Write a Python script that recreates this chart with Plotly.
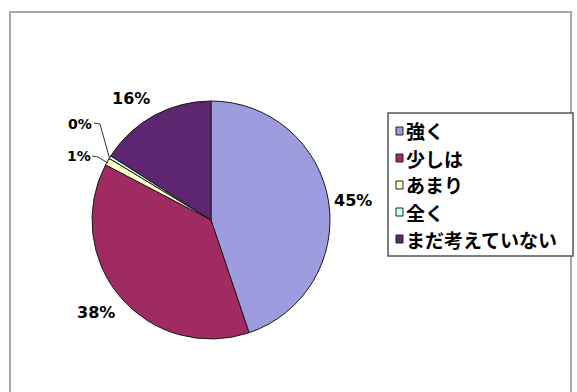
import plotly.graph_objects as go

W, H = 577, 392

categories = ["強く", "少しは", "あまり", "全く", "まだ考えていない"]
values = [45, 38, 1, 0.4, 16]
colors = ["#9C9CDE", "#A02A62", "#FFFFCC", "#CCFFFF", "#5E2570"]

# pixel helpers -> paper coordinates (margins are zero)
def px(x):
    return x / W

def py(y):
    return 1 - y / H

cx, cy, r = 211, 220, 119

fig = go.Figure(go.Pie(
    labels=categories,
    values=values,
    sort=False,
    direction="clockwise",
    rotation=0,
    marker=dict(colors=colors, line=dict(color="#1a1a1a", width=1)),
    textinfo="none",
    hoverinfo="label+percent",
    showlegend=False,
    domain=dict(x=[px(cx - r), px(cx + r)], y=[py(cy + r), py(cy - r)]),
))

total = sum(values)
pct = [f"{round(v / total * 100):d}%" for v in values]

# label anchor points for each slice (pixels)
label_pos = [(353, 200), (96, 312), (79, 156), (80, 124), (131, 98)]
sizes = [16, 16, 14, 14, 16]

annotations = []
for (x, y), t, s in zip(label_pos, pct, sizes):
    annotations.append(dict(
        x=px(x), y=py(y), xref="paper", yref="paper", text=f"<b>{t}</b>",
        showarrow=False, font=dict(family="DejaVu Sans", size=s, color="#000"),
        xanchor="center", yanchor="middle",
    ))

shapes = [
    # chart area frame
    dict(type="rect", xref="paper", yref="paper", x0=px(10), x1=px(571),
         y0=py(400), y1=py(12), line=dict(color="#a8a8a8", width=2)),
    # leader lines for the small slices
    dict(type="path", xref="paper", yref="paper",
         path=f"M {px(94)},{py(123)} L {px(100)},{py(124)} L {px(110)},{py(160)}",
         line=dict(color="#333", width=1)),
    dict(type="path", xref="paper", yref="paper",
         path=f"M {px(92)},{py(156)} L {px(98)},{py(157)} L {px(108)},{py(163)}",
         line=dict(color="#333", width=1)),
    # legend box
    dict(type="rect", xref="paper", yref="paper", x0=px(388), x1=px(573),
         y0=py(256), y1=py(113), line=dict(color="#555", width=1.5),
         fillcolor="white"),
]

# legend entries
leg_y = [131, 158, 185, 212, 239]
for cat, col, y in zip(categories, colors, leg_y):
    shapes.append(dict(type="rect", xref="paper", yref="paper",
                       x0=px(396), x1=px(403), y0=py(y + 4), y1=py(y - 4),
                       fillcolor=col, line=dict(color="#222", width=1)))
    annotations.append(dict(
        x=px(405), y=py(y), xref="paper", yref="paper", text=f"<b>{cat}</b>",
        showarrow=False, xanchor="left", yanchor="middle", borderpad=0,
        font=dict(family="Noto Sans CJK JP", size=19, color="#000"),
    ))

fig.update_layout(
    width=W, height=H,
    margin=dict(l=0, r=0, t=0, b=0),
    paper_bgcolor="white",
    plot_bgcolor="white",
    shapes=shapes,
    annotations=annotations,
)

fig.write_html("out.html")
